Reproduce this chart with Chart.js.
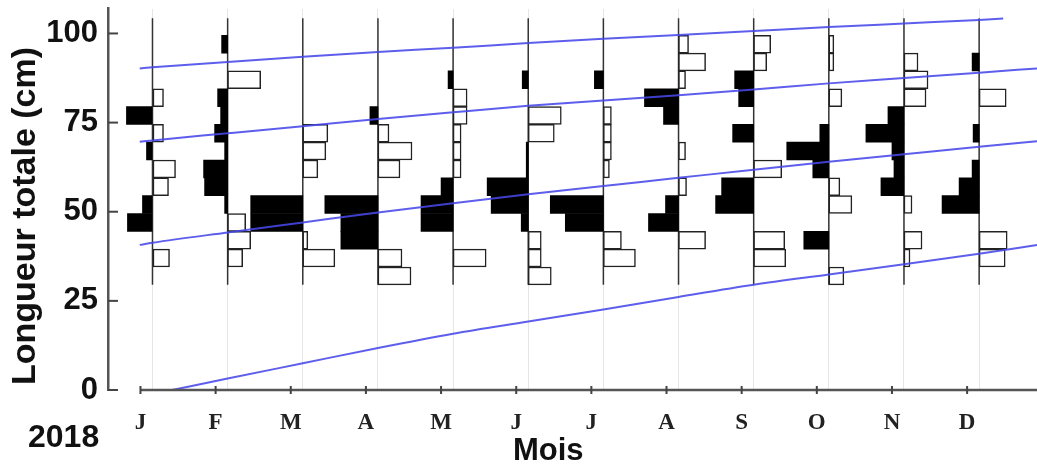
<!DOCTYPE html>
<html>
<head>
<meta charset="utf-8">
<script src="https://cdn.jsdelivr.net/npm/chart.js@4.4.1/dist/chart.umd.min.js"></script>
<style>
html,body{margin:0;padding:0;background:#fff;}
#wrap{width:1037px;height:469px;position:relative;}
</style>
</head>
<body>
<div id="wrap"><canvas id="c"></canvas></div>
<script>
// ---------- data ----------
const months = ['J','F','M','A','M','J','J','A','S','O','N','D'];
const yearLabel = '2018';
const xTitle = 'Mois';
const yTitle = 'Longueur totale (cm)';
const yTicks = [0, 25, 50, 75, 100];
// length-class mid points (cm), 5 cm classes
const binMids = [32, 37, 42, 47, 52, 57, 62, 67, 72, 77, 82, 87, 92, 97];
// relative frequencies drawn to the left of each month (black) ; columns follow binMids
const blackFreq = [
  [0,0,0,25,10,0,0,6,0,26,0,0,0,0],   // J
  [0,0,0,0,3,23,24,3,13,7,10,0,0,6],  // F
  [0,0,0,52,52,0,0,0,0,0,0,0,0,0],    // M
  [0,0,37,37,53,0,0,0,0,8,0,0,0,0],   // A
  [0,0,0,32,32,12,0,0,0,0,0,5,0,0],   // M
  [0,0,0,7,37,41,2,2,0,0,0,6,0,0],    // J
  [0,0,0,38,53,0,0,0,0,0,0,9,0,0],    // J
  [0,0,0,30,13,0,0,0,0,15,34,0,0,0],  // A
  [0,0,0,0,38,32,0,0,21,0,15,19,0,0], // S
  [0,0,25,0,0,0,16,42,9,0,0,0,0,0],   // O
  [0,0,0,0,0,23,10,12,38,16,0,0,0,0], // N
  [0,0,0,0,37,20,7,0,6,0,0,0,7,0]     // D
];
// relative frequencies drawn to the right of each month (white)
const whiteFreq = [
  [0,17,0,0,0,16,23,0,11,0,11,0,0,0],   // J
  [0,15,23,18,0,0,0,0,0,0,0,33,0,0],    // F
  [0,32,5,0,0,0,15,23,25,0,0,0,0,0],    // M
  [33,24,0,0,0,0,22,34,11,0,0,0,0,0],   // A
  [0,33,0,0,0,0,8,8,8,14,14,0,0,0],     // M
  [23,13,13,0,0,0,0,0,26,33,0,0,0,0],   // J
  [0,32,18,0,0,0,6,8,8,8,0,0,0,0],      // J
  [0,0,27,0,0,8,0,7,0,0,0,7,27,10],     // A
  [0,32,31,0,0,0,28,0,0,0,0,0,13,17],   // S
  [15,0,0,0,23,11,0,0,0,0,13,0,5,5],    // O
  [0,6,18,0,8,0,0,0,0,0,22,24,14,0],    // N
  [0,26,28,0,0,0,0,0,0,0,27,0,0,0]      // D
];
// growth curves (time in months from January, length in cm)
const cohort1T = [0.26, 1, 2, 3, 4, 5, 6, 7, 8, 9, 10, 11, 11.77];
const cohort1L = [0, 3.2, 7.5, 11.8, 15.8, 19.2, 22.6, 26.1, 29.5, 32.4, 35.3, 38.2, 40.7];
const cohort2T = [-0.17, 0, 1, 2, 3, 4, 5, 6, 7, 8, 9, 10, 11, 11.77];
const cohort2L = [40.7, 41.3, 44.2, 47, 49.8, 52.4, 54.9, 57.2, 59.5, 61.8, 64, 66.1, 68.2, 69.8];
const cohort3T = [-0.17, 0, 1, 2, 3, 4, 5, 6, 7, 8, 9, 10, 11, 11.77];
const cohort3L = [69.6, 70, 72, 74, 76, 77.9, 79.7, 81.2, 82.7, 84.3, 86, 87.5, 89, 90.2];
const cohort4T = [-0.17, 0, 1, 2, 3, 4, 5, 6, 7, 8, 9, 10, 11, 11.32];
const cohort4L = [90.2, 90.5, 92, 93.5, 94.8, 96, 97.3, 98.5, 99.6, 100.7, 101.8, 102.8, 103.8, 104.2];
// extent of each month's histogram baseline (cm)
const stemBottom = 29.5;
const stemTop = 104.3;

// ---------- styling / scale constants ----------
const xMin = -0.592, xMax = 11.77, yMax = 107;
const freqToMonth = 1 / 75;     // one frequency unit as a fraction of the month spacing
const tickShift = -0.16;        // month tick marks sit slightly left of the histograms
const blue = 'rgba(72,72,235,0.88)';

function barsFrom(freqs, side) {
  const out = [];
  freqs.forEach((row, i) => row.forEach((v, j) => {
    if (v > 0) out.push({ x: side < 0 ? [i - v * freqToMonth, i] : [i, i + v * freqToMonth], y: binMids[j] });
  }));
  return out;
}
function curve(t, L) { return t.map((v, i) => ({ x: v, y: L[i] })); }
function noPad(s) { s.paddingTop = 0; s.paddingBottom = 0; s.paddingLeft = 0; s.paddingRight = 0; }

const growthSets = [[cohort1T, cohort1L], [cohort2T, cohort2L], [cohort3T, cohort3L], [cohort4T, cohort4L]]
  .map(([t, L], n) => ({
    type: 'line', label: 'cohorte ' + (n + 1), data: curve(t, L),
    borderColor: blue, borderWidth: 2, pointRadius: 0, fill: false,
    cubicInterpolationMode: 'monotone', xAxisID: 'x', yAxisID: 'y', order: 0
  }));
const stemSets = months.map((m, i) => ({
  type: 'line', label: 'base ' + i, data: [{ x: i, y: stemBottom }, { x: i, y: stemTop }],
  borderColor: '#333', borderWidth: 1.5, pointRadius: 0, fill: false,
  xAxisID: 'x', yAxisID: 'y', order: 3
}));
const barCommon = { type: 'bar', indexAxis: 'y', xAxisID: 'x', yAxisID: 'y', grouped: false,
  barPercentage: 1, categoryPercentage: 1 };

const decor = {
  id: 'decor',
  afterDraw(chart) {
    const { ctx, chartArea: a, scales: { xb, y } } = chart;
    ctx.save();
    ctx.strokeStyle = '#555';
    ctx.lineWidth = 2.5;
    const x0 = xb.getPixelForTick(0);
    ctx.beginPath(); ctx.moveTo(x0, a.bottom); ctx.lineTo(a.right, a.bottom); ctx.stroke();
    ctx.lineWidth = 2;
    ctx.strokeStyle = '#444';
    xb.ticks.forEach((t, i) => {
      const px = xb.getPixelForTick(i);
      ctx.beginPath(); ctx.moveTo(px, a.bottom - 4); ctx.lineTo(px, a.bottom + 4); ctx.stroke();
    });
    y.ticks.forEach((t, i) => {
      const py = y.getPixelForTick(i);
      ctx.beginPath(); ctx.moveTo(a.left, py); ctx.lineTo(a.left + 10, py); ctx.stroke();
    });
    ctx.fillStyle = '#111';
    ctx.textBaseline = 'alphabetic';
    ctx.textAlign = 'left';
    ctx.font = 'bold 31px "Liberation Sans"';
    ctx.fillText(xTitle, 513, 460);
    ctx.font = 'bold 32px "Liberation Sans"';
    ctx.fillText(yearLabel, 28, 447);
    ctx.translate(35, 216);
    ctx.rotate(-Math.PI / 2);
    ctx.textAlign = 'center';
    ctx.font = 'bold 34px "Liberation Sans"';
    ctx.fillText(yTitle, 0, 0);
    ctx.restore();
  }
};

Chart.defaults.font.family = '"Liberation Sans", Arial, sans-serif';

new Chart(document.getElementById('c'), {
  type: 'line',
  data: {
    datasets: [
      ...growthSets,
      Object.assign({ label: 'blanc', data: barsFrom(whiteFreq, 1), backgroundColor: '#fff',
        borderColor: '#222', borderWidth: 1.5, borderSkipped: false, order: 1 }, barCommon),
      Object.assign({ label: 'noir', data: barsFrom(blackFreq, -1), backgroundColor: '#000',
        borderWidth: 0, order: 2 }, barCommon),
      ...stemSets
    ]
  },
  options: {
    responsive: true, maintainAspectRatio: false, animation: false,
    layout: { padding: { top: 8.5, left: 0, right: 0, bottom: 0 } },
    plugins: { legend: { display: false }, tooltip: { enabled: false } },
    scales: {
      x: {
        type: 'linear', position: 'top', min: xMin, max: xMax, offset: false,
        afterBuildTicks: s => { s.ticks = months.map((m, i) => ({ value: i })); },
        afterFit: s => { s.height = 0; noPad(s); },
        ticks: { display: false },
        border: { display: false },
        grid: { color: '#e6e6e6', lineWidth: 1, drawTicks: false, offset: false }
      },
      xb: {
        type: 'linear', position: 'bottom', min: xMin, max: xMax, offset: false,
        afterBuildTicks: s => { s.ticks = months.map((m, i) => ({ value: i + tickShift })); },
        afterFit: s => { s.height = 79; noPad(s); },
        ticks: {
          callback: (v, i) => months[i], autoSkip: false, maxRotation: 0,
          font: { family: '"Liberation Serif", "Times New Roman", serif', weight: 'bold', size: 23 },
          color: '#222', padding: 11
        },
        border: { display: false },
        grid: { display: false, offset: false }
      },
      y: {
        type: 'linear', position: 'left', min: 0, max: yMax, offset: false,
        afterBuildTicks: s => { s.ticks = yTicks.map(v => ({ value: v })); },
        afterFit: s => { s.width = 108; noPad(s); },
        ticks: { font: { weight: 'bold', size: 31 }, color: '#111', padding: 10 },
        grid: { drawOnChartArea: false, drawTicks: false, offset: false },
        border: { display: true, color: '#555', width: 2.5 }
      }
    }
  },
  plugins: [decor]
});
</script>
</body>
</html>
